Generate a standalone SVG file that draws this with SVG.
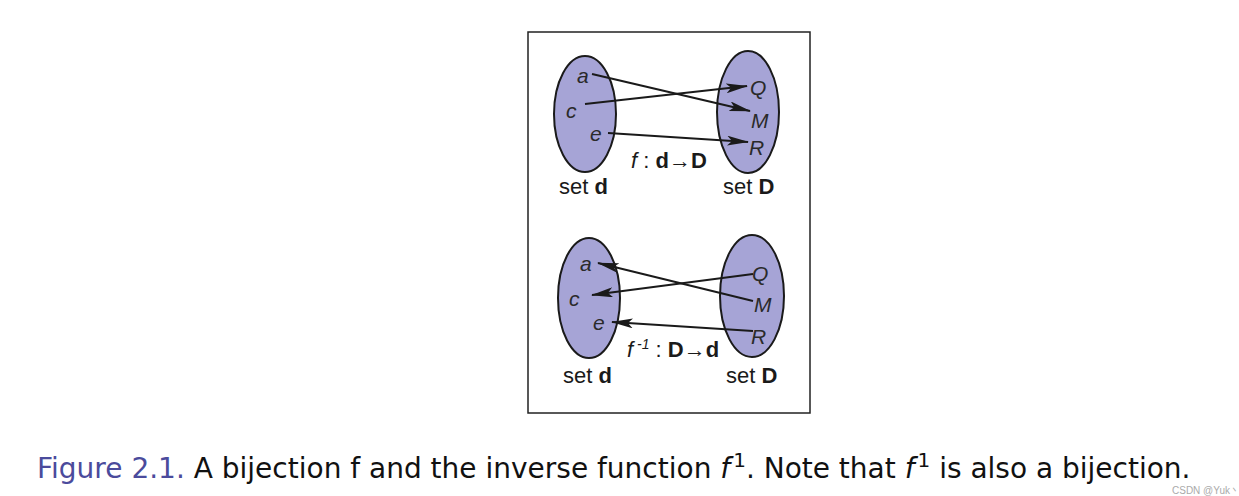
<svg xmlns="http://www.w3.org/2000/svg" width="1239" height="496" viewBox="0 0 1239 496">
<defs>
<style>
.set{fill:#a6a4d6;stroke:#1a1a1a;stroke-width:2}
.el{font-family:"Liberation Sans",Arial,sans-serif;font-size:21px;font-style:italic;fill:#2a2a2a}
.lbl{font-family:"Liberation Sans",Arial,sans-serif;font-size:22px;fill:#1a1a1a}
.b{font-weight:bold}
.edge{stroke:#1a1a1a;stroke-width:2;fill:none;marker-end:url(#ah)}
.cap{font-family:"DejaVu Sans","Liberation Sans",sans-serif;font-size:28px;fill:#111}
</style>
<marker id="ah" viewBox="0 0 22 10" refX="21" refY="5" markerWidth="22" markerHeight="10" markerUnits="userSpaceOnUse" orient="auto">
<path d="M0,0 L22,5 L0,10 L5,5 Z" fill="#1a1a1a"/>
</marker>
</defs>
<rect x="528" y="32" width="282" height="381" fill="#fff" stroke="#222" stroke-width="1.5"/>
<g id="top-set-d">
<ellipse class="set" cx="585" cy="114" rx="31" ry="58"/>
<text class="el" x="577" y="83">a</text>
<text class="el" x="566" y="118">c</text>
<text class="el" x="590" y="141">e</text>
<text class="lbl" x="559" y="194">set <tspan class="b">d</tspan></text>
</g>
<g id="top-set-D">
<ellipse class="set" cx="748" cy="112" rx="31" ry="61"/>
<text class="el" x="750" y="95">Q</text>
<text class="el" x="751" y="128">M</text>
<text class="el" x="749" y="155">R</text>
<text class="lbl" x="723" y="194">set <tspan class="b">D</tspan></text>
</g>
<g id="bottom-set-d">
<ellipse class="set" cx="589" cy="298" rx="31" ry="60"/>
<text class="el" x="580" y="271">a</text>
<text class="el" x="569" y="306">c</text>
<text class="el" x="593" y="330">e</text>
<text class="lbl" x="563" y="383">set <tspan class="b">d</tspan></text>
</g>
<g id="bottom-set-D">
<ellipse class="set" cx="752" cy="296" rx="32" ry="61"/>
<text class="el" x="752" y="281">Q</text>
<text class="el" x="754" y="312">M</text>
<text class="el" x="751" y="344">R</text>
<text class="lbl" x="726" y="383">set <tspan class="b">D</tspan></text>
</g>
<g id="labels">
<text class="lbl" x="631" y="168"><tspan font-style="italic">f</tspan> : <tspan class="b">d</tspan>→<tspan class="b">D</tspan></text>
<text class="lbl" x="627" y="357"><tspan font-style="italic">f</tspan><tspan font-size="14" dy="-8" font-style="italic"> -1</tspan><tspan dy="8"> : </tspan><tspan class="b">D</tspan>→<tspan class="b">d</tspan></text>
</g>
<g id="connectors">
<line class="edge" x1="592" y1="74" x2="750" y2="111"/>
<line class="edge" x1="585" y1="104" x2="747" y2="86"/>
<line class="edge" x1="608" y1="133" x2="748" y2="142"/>
<line class="edge" x1="753" y1="301" x2="598" y2="263"/>
<line class="edge" x1="753" y1="274" x2="592" y2="295"/>
<line class="edge" x1="753" y1="331" x2="612" y2="322"/>
</g>
<g id="caption">
<text class="cap" x="37" y="478"><tspan fill="#4b4b9c">Figure 2.1.</tspan> A bijection f and the inverse function <tspan font-style="italic">f</tspan><tspan font-size="20" dy="-11" dx="3">1</tspan><tspan dy="11">. Note that </tspan><tspan font-style="italic">f</tspan><tspan font-size="20" dy="-11" dx="3">1</tspan><tspan dy="11"> is also a bijection.</tspan></text>
<text x="1172" y="494" font-family="Liberation Sans,sans-serif" font-size="10" fill="#aaa">CSDN @Yuk丶</text>
</g>
</svg>
